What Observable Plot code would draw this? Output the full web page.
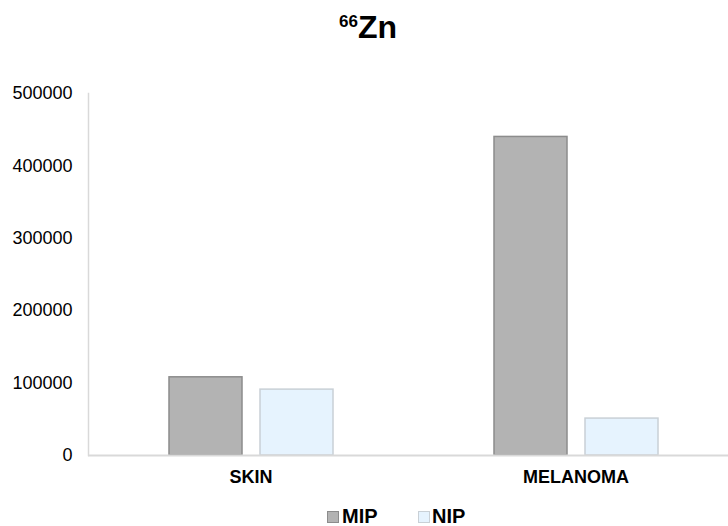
<!DOCTYPE html>
<html>
<head>
<meta charset="utf-8">
<script src="https://cdn.jsdelivr.net/npm/d3@7"></script>
<script src="https://cdn.jsdelivr.net/npm/@observablehq/plot@0.6"></script>
<style>
  html, body { margin: 0; padding: 0; background: #fff; overflow: hidden; }
  body { font-family: "Liberation Sans", Arial, sans-serif; width: 728px; height: 526px; }
  #title { position: relative; height: 60px; }
  #title span.t { position: absolute; left: 339px; top: 11px; font-weight: bold; font-size: 32px; line-height: 1; color: #000; white-space: nowrap; }
  #title span.s { font-size: 17px; position: relative; top: -11px; }
  #legend { position: relative; height: 36px; }
  #legend .sw { position: absolute; width: 10px; height: 10px; top: 21px; }
  #legend .lb { position: absolute; top: 16px; font-weight: bold; font-size: 20px; line-height: 1; }
  svg { display: block; }
</style>
</head>
<body>
<div id="title"><span class="t"><span class="s">66</span>Zn</span></div>
<div id="chart"></div>
<div id="legend"></div>
<script>
const categories = ["SKIN", "MELANOMA"];
const series = ["MIP", "NIP"];
const mipValues = [108000, 440000];
const nipValues = [91000, 51000];
const yTicks = [0, 100000, 200000, 300000, 400000, 500000];
const colors = {MIP: "#b3b3b3", NIP: "#e6f3fe"};
const strokes = {MIP: "#8c8c8c", NIP: "#c9d0d6"};

const data = [];
categories.forEach((c, i) => {
  data.push({category: c, series: "MIP", value: mipValues[i]});
  data.push({category: c, series: "NIP", value: nipValues[i]});
});

const plot = Plot.plot({
  width: 728,
  height: 430,
  marginTop: 33,
  marginBottom: 35,
  marginLeft: 88,
  marginRight: -10,
  style: {fontFamily: "Liberation Sans, Arial, sans-serif", fontSize: "18px", color: "#000", background: "#fff"},
  fx: {domain: categories, paddingInner: 0, paddingOuter: 0, label: null, axis: null},
  x: {domain: series, paddingInner: 0.2, paddingOuter: 0.87, axis: null},
  y: {domain: [0, 500000], label: null},
  marks: [
    Plot.frame({anchor: "left", stroke: "#d9d9d9", strokeWidth: 1.5, facetAnchor: "left"}),
    Plot.barY(data, {
      fx: "category", x: "series", y: "value",
      fill: d => colors[d.series], stroke: d => strokes[d.series], strokeWidth: 1.5
    }),
    Plot.ruleY([0], {stroke: "#d9d9d9", strokeWidth: 2}),
    Plot.axisY({ticks: yTicks, tickFormat: "d", tickSize: 0, tickPadding: 16, fontSize: 18, label: null}),
    Plot.axisFx({anchor: "bottom", tickSize: 0, tickPadding: 15, fontSize: 18, fontWeight: "bold", label: null})
  ]
});
document.getElementById("chart").appendChild(plot);

const legend = document.getElementById("legend");
const legendPos = {MIP: [327, 342], NIP: [418, 432]};
series.forEach(s => {
  const sw = document.createElement("div");
  sw.className = "sw";
  sw.style.left = legendPos[s][0] + "px";
  sw.style.background = colors[s];
  sw.style.border = "1px solid " + strokes[s];
  legend.appendChild(sw);
  const lb = document.createElement("div");
  lb.className = "lb";
  lb.style.left = legendPos[s][1] + "px";
  lb.textContent = s;
  legend.appendChild(lb);
});
</script>
</body>
</html>
